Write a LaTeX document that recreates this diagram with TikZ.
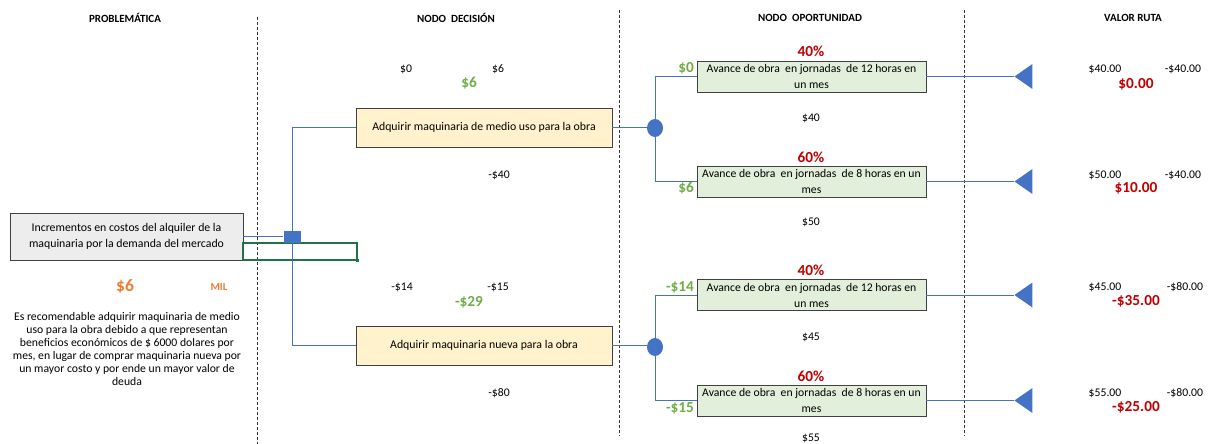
\documentclass[tikz,border=0pt]{standalone}
\usepackage{fontspec}
\setmainfont{Carlito}
\usetikzlibrary{shapes.geometric,calc}
\definecolor{lnblue}{HTML}{4472C4}
\definecolor{shblue}{HTML}{4472C4}
\definecolor{gval}{HTML}{70AD47}
\definecolor{rval}{HTML}{C00000}
\definecolor{oval}{HTML}{ED7D31}
\definecolor{yfill}{HTML}{FFF2CC}
\definecolor{gfill}{HTML}{E2EFDA}
\definecolor{pfill}{HTML}{EDEDED}
\definecolor{bord}{HTML}{404040}
\definecolor{selgreen}{HTML}{217346}
\tikzset{
  txt/.style={font=\fontsize{11.7}{13}\selectfont, inner sep=0pt},
  hdr/.style={font=\fontsize{11}{12}\selectfont\bfseries, inner sep=0pt},
  gbold/.style={font=\fontsize{15.3}{16}\selectfont\bfseries, text=gval, inner sep=0pt},
  rbold/.style={font=\fontsize{15.3}{16}\selectfont\bfseries, text=rval, inner sep=0pt},
  decbox/.style={draw=bord, fill=yfill, line width=0.9pt, minimum width=256pt, minimum height=39pt, inner sep=0pt, font=\fontsize{11.8}{14}\selectfont},
  oppbox/.style={draw=bord, fill=gfill, line width=0.9pt, minimum width=229pt, minimum height=31pt, inner sep=0pt, align=center, font=\fontsize{11.7}{16}\selectfont},
  conn/.style={draw=lnblue, line width=0.8pt},
  sep/.style={draw=black!80, line width=0.8pt, dash pattern=on 3pt off 2pt},
  chance/.style={ellipse, fill=shblue, minimum width=16pt, minimum height=18pt, inner sep=0pt},
}
\begin{document}
\begin{tikzpicture}[x=1pt,y=-1pt]
\useasboundingbox (0,0) rectangle (1216,444);
% separators
\coordinate (s1t) at (257,17); \coordinate (s1b) at (257,444);
\coordinate (s2t) at (619,10); \coordinate (s2b) at (619,436);
\coordinate (s3t) at (964,10); \coordinate (s3b) at (964,436);
\draw[sep] (s1t) -- (s1b);
\draw[sep] (s2t) -- (s2b);
\draw[sep] (s3t) -- (s3b);
% headers
\node[hdr] (h1) at (125,18) {PROBLEMÁTICA};
\node[hdr] (h2) at (456,18) {NODO\ \ DECISIÓN};
\node[hdr] (h3) at (810,18) {NODO\ \ OPORTUNIDAD};
\node[hdr] (h4) at (1133,18) {VALOR RUTA};
% problem
\node[draw=bord, fill=pfill, line width=0.9pt, minimum width=233pt, minimum height=47pt, inner sep=0pt, align=center, font=\fontsize{11.8}{16}\selectfont] (pb) at (126.5,236.5) {Incrementos en costos del alquiler de la\\maquinaria por la demanda del mercado};
\node[draw=selgreen, line width=1.2pt, minimum width=114pt, minimum height=17pt, inner sep=0pt] (sel) at (300,251.5) {};
\node[fill=selgreen, minimum size=3.5pt, inner sep=0pt] (selh) at (sel.south east) {};
\node[fill=shblue, minimum width=17pt, minimum height=12pt, inner sep=0pt] (sq) at (292,237) {};
\node[txt, font=\fontsize{17.5}{18}\selectfont\bfseries, text=oval] (p6) at (125,286) {\$6};
\node[txt, font=\fontsize{10.8}{12}\selectfont\bfseries, text=oval] (mil) at (219,287) {MIL};
\node[txt, align=center] (para) at (127,348.5) {Es recomendable adquirir maquinaria de medio\\uso para la obra debido a que representan\\beneficios económicos de \$ 6000 dolares por\\mes, en lugar de comprar maquinaria nueva por\\un mayor costo y por ende un mayor valor de\\deuda};
% decision boxes
\node[decbox] (b1) at (484,127.5) {Adquirir maquinaria de medio uso para la obra};
\node[decbox] (b2) at (484,345.5) {Adquirir maquinaria nueva para la obra};
\node[txt] (d1a) at (406,69) {\$0};
\node[txt] (d1b) at (498,69) {\$6};
\node[gbold] (d1c) at (469,83) {\$6};
\node[txt] (d1d) at (499,175) {-\$40};
\node[txt] (d2a) at (402,287) {-\$14};
\node[txt] (d2b) at (498,287) {-\$15};
\node[gbold] (d2c) at (469,302) {-\$29};
\node[txt] (d2d) at (499,393) {-\$80};
% chance nodes
\node[chance] (c1) at (655,128) {};
\node[chance] (c2) at (655,347) {};
% opportunity boxes
\node[oppbox] (g1) at (811.5,76.5) {Avance de obra\ \ en jornadas\ \ de 12 horas en\\un mes};
\node[oppbox] (g2) at (811.5,181.5) {Avance de obra\ \ en jornadas\ \ de 8 horas en un\\mes};
\node[oppbox] (g3) at (811.5,295) {Avance de obra\ \ en jornadas\ \ de 12 horas en\\un mes};
\node[oppbox] (g4) at (811.5,400.5) {Avance de obra\ \ en jornadas\ \ de 8 horas en un\\mes};
\node[rbold] (pc1) at (811,51) {40\%};
\node[rbold] (pc2) at (811,157) {60\%};
\node[rbold] (pc3) at (811,270) {40\%};
\node[rbold] (pc4) at (811,376) {60\%};
\node[gbold] (o1) at (686,68) {\$0};
\node[gbold] (o2) at (686,188) {\$6};
\node[gbold] (o3) at (680,287) {-\$14};
\node[gbold] (o4) at (680,408) {-\$15};
\node[txt] (v1) at (811,118) {\$40};
\node[txt] (v2) at (811,222) {\$50};
\node[txt] (v3) at (811,337) {\$45};
\node[txt] (v4) at (811,438) {\$55};
% terminal triangles
\coordinate (t1) at ($(g1.east)+(88,0)$);
\coordinate (t2) at ($(g2.east)+(88,0)$);
\coordinate (t3) at ($(g3.east)+(88,0)$);
\coordinate (t4) at ($(g4.east)+(88,0)$);
\foreach \t in {t1,t2,t3,t4}{\fill[shblue] (\t) -- ++(18,-12.5) -- ++(0,25) -- cycle;}
% path values
\node[txt] (r1a) at (1105,69) {\$40.00};
\node[txt] (r1b) at (1183,69) {-\$40.00};
\node[rbold] (r1c) at (1136,84) {\$0.00};
\node[txt] (r2a) at (1105,175) {\$50.00};
\node[txt] (r2b) at (1183,175) {-\$40.00};
\node[rbold] (r2c) at (1136,188) {\$10.00};
\node[txt] (r3a) at (1105,287) {\$45.00};
\node[txt] (r3b) at (1185,287) {-\$80.00};
\node[rbold] (r3c) at (1136,301) {-\$35.00};
\node[txt] (r4a) at (1105,393) {\$55.00};
\node[txt] (r4b) at (1185,393) {-\$80.00};
\node[rbold] (r4c) at (1136,407) {-\$25.00};
% connectors
\draw[conn] (pb.east |- sq.west) ++(0,-1) -- ($(sq.west)+(0,-1)$);
\draw[conn] (sq.north) |- (b1.west);
\draw[conn] (sq.south) |- (b2.west);
\draw[conn] (b1.east) -- (b1.east -| c1.west);
\draw[conn] (b2.east) -- (b2.east -| c2.west);
\draw[conn] (c1.north) |- (g1.west);
\draw[conn] (c1.south) |- (g2.west);
\draw[conn] (c2.north) |- (g3.west);
\draw[conn] (c2.south) |- (g4.west);
\draw[conn] (g1.east) -- (t1);
\draw[conn] (g2.east) -- (t2);
\draw[conn] (g3.east) -- (t3);
\draw[conn] (g4.east) -- (t4);
\end{tikzpicture}
\end{document}
